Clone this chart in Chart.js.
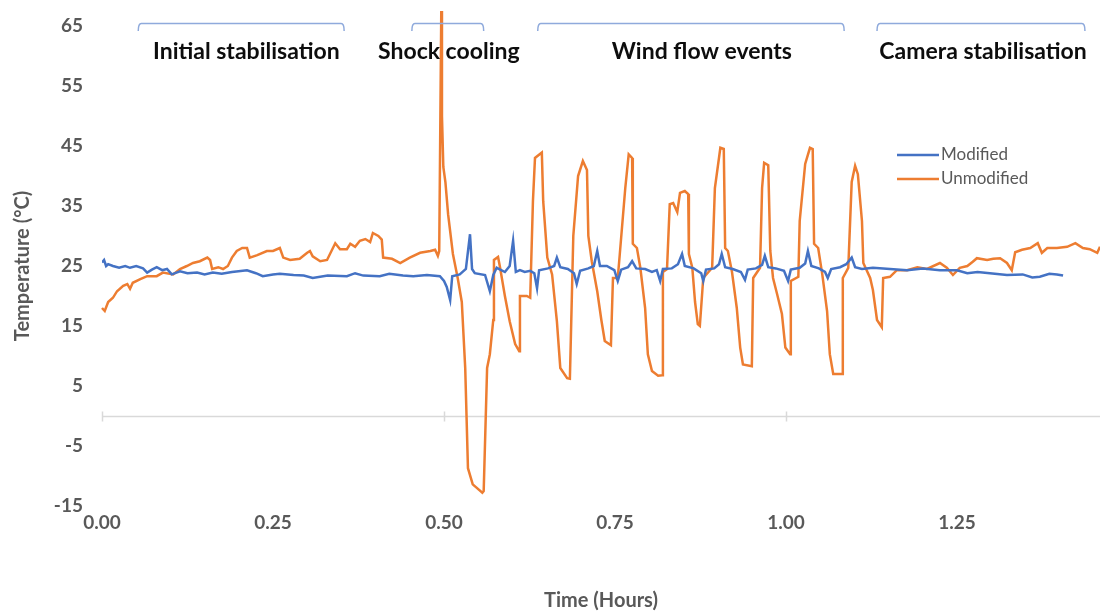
<!DOCTYPE html>
<html>
<head>
<meta charset="utf-8">
<script src="https://cdn.jsdelivr.net/npm/chart.js@4.4.0/dist/chart.umd.min.js"></script>
<style>
    html, body { margin: 0; padding: 0; background: #ffffff; }
    #wrap { width: 1100px; height: 613px; }
</style>
</head>
<body>
<div id="wrap"><canvas id="tempChart" width="1100" height="613"></canvas></div>
<script>
// Time in hours, temperature in °C
const modifiedTime = [
    0.000, 0.003, 0.006, 0.009, 0.016, 0.025, 0.034, 0.041, 0.050, 0.060,
    0.066, 0.073, 0.080, 0.088, 0.095, 0.102, 0.114, 0.125, 0.139, 0.150,
    0.162, 0.175, 0.190, 0.212, 0.225, 0.235, 0.250, 0.260, 0.280, 0.295,
    0.308, 0.330, 0.358, 0.370, 0.382, 0.406, 0.420, 0.440, 0.455, 0.475,
    0.494, 0.500, 0.504, 0.509, 0.512, 0.523, 0.532, 0.538, 0.541, 0.545,
    0.560, 0.567, 0.572, 0.577, 0.589, 0.596, 0.601, 0.605, 0.611, 0.618,
    0.626, 0.632, 0.636, 0.639, 0.652, 0.661, 0.665, 0.670, 0.681, 0.690,
    0.694, 0.699, 0.711, 0.719, 0.724, 0.728, 0.738, 0.749, 0.754, 0.759,
    0.769, 0.775, 0.781, 0.794, 0.804, 0.811, 0.816, 0.820, 0.833, 0.842,
    0.848, 0.852, 0.865, 0.876, 0.879, 0.883, 0.895, 0.902, 0.906, 0.911,
    0.922, 0.934, 0.940, 0.944, 0.956, 0.965, 0.969, 0.974, 0.985, 0.997,
    1.003, 1.007, 1.020, 1.028, 1.032, 1.037, 1.048, 1.057, 1.061, 1.066,
    1.079, 1.088, 1.096, 1.101, 1.111, 1.127, 1.152, 1.177, 1.200, 1.225,
    1.250, 1.265, 1.280, 1.298, 1.323, 1.346, 1.360, 1.371, 1.385, 1.396,
    1.405
];
const modifiedTemp = [
    25.6, 26.0, 25.0, 25.3, 25.0, 24.7, 25.0, 24.7, 25.0, 24.6,
    23.9, 24.4, 24.8, 24.3, 24.5, 23.6, 24.1, 23.8, 23.9, 23.6,
    23.9, 23.7, 24.0, 24.3, 23.8, 23.3, 23.6, 23.7, 23.5, 23.4,
    23.0, 23.4, 23.3, 23.8, 23.4, 23.3, 23.7, 23.4, 23.3, 23.5,
    23.3, 22.5, 21.5, 19.3, 23.3, 23.6, 24.5, 30.3, 24.5, 23.8,
    23.5, 20.8, 23.5, 24.7, 24.0, 25.0, 29.2, 24.0, 24.3, 24.0,
    24.2, 23.8, 21.3, 24.3, 24.6, 25.0, 26.4, 24.8, 24.5, 23.8,
    22.0, 24.2, 24.6, 25.0, 27.5, 25.0, 25.0, 24.3, 22.5, 24.4,
    24.8, 25.8, 24.6, 24.5, 24.0, 24.3, 22.5, 24.5, 24.6, 25.3,
    27.0, 25.0, 24.6, 23.8, 22.5, 24.4, 24.6, 25.3, 27.0, 24.8,
    24.5, 24.0, 22.7, 24.4, 24.6, 25.2, 26.7, 24.8, 24.6, 24.2,
    22.5, 24.4, 24.7, 25.4, 27.5, 25.0, 24.6, 24.0, 23.0, 24.5,
    24.8, 25.3, 26.4, 24.8, 24.5, 24.7, 24.5, 24.3, 24.6, 24.3,
    24.3, 23.8, 24.0, 23.8, 23.5, 23.6, 23.1, 23.2, 23.7, 23.6,
    23.4
];

const unmodifiedTime = [
    0.000, 0.004, 0.009, 0.016, 0.022, 0.031, 0.037, 0.041, 0.045, 0.056,
    0.066, 0.080, 0.089, 0.104, 0.114, 0.124, 0.133, 0.143, 0.154, 0.158,
    0.161, 0.170, 0.177, 0.184, 0.190, 0.197, 0.205, 0.212, 0.216, 0.227,
    0.241, 0.250, 0.260, 0.265, 0.275, 0.289, 0.300, 0.304, 0.308, 0.319,
    0.329, 0.341, 0.348, 0.358, 0.363, 0.370, 0.377, 0.385, 0.392, 0.396,
    0.404, 0.409, 0.411, 0.424, 0.436, 0.450, 0.465, 0.480, 0.487, 0.491,
    0.493, 0.496, 0.497, 0.499, 0.502, 0.506, 0.513, 0.520, 0.526, 0.531,
    0.535, 0.542, 0.556, 0.558, 0.563, 0.567, 0.572, 0.573, 0.579, 0.582,
    0.589, 0.596, 0.604, 0.610, 0.611, 0.621, 0.626, 0.630, 0.633, 0.643,
    0.645, 0.651, 0.658, 0.665, 0.670, 0.680, 0.684, 0.689, 0.696, 0.703,
    0.709, 0.711, 0.716, 0.724, 0.730, 0.735, 0.744, 0.747, 0.754, 0.757,
    0.765, 0.770, 0.775, 0.776, 0.782, 0.787, 0.794, 0.798, 0.804, 0.813,
    0.819, 0.820, 0.826, 0.830, 0.835, 0.841, 0.845, 0.852, 0.857, 0.858,
    0.863, 0.867, 0.871, 0.874, 0.879, 0.892, 0.896, 0.904, 0.909, 0.911,
    0.915, 0.921, 0.928, 0.933, 0.937, 0.950, 0.952, 0.962, 0.965, 0.968,
    0.974, 0.977, 0.981, 0.987, 0.994, 0.999, 1.006, 1.007, 1.018, 1.020,
    1.028, 1.035, 1.039, 1.041, 1.047, 1.053, 1.060, 1.064, 1.069, 1.082,
    1.083, 1.091, 1.096, 1.101, 1.105, 1.111, 1.113, 1.123, 1.127, 1.133,
    1.140, 1.142, 1.152, 1.162, 1.177, 1.192, 1.206, 1.225, 1.235, 1.244,
    1.254, 1.265, 1.273, 1.279, 1.294, 1.303, 1.313, 1.323, 1.330, 1.335,
    1.345, 1.357, 1.368, 1.374, 1.382, 1.396, 1.411, 1.423, 1.434, 1.444,
    1.455, 1.459
];
const unmodifiedTemp = [
    18.0, 17.5, 19.0, 19.7, 20.8, 21.7, 22.0, 21.2, 22.2, 22.8,
    23.3, 23.3, 23.9, 23.6, 24.5, 25.0, 25.5, 25.8, 26.4, 26.0,
    24.5, 24.8, 24.5, 25.0, 26.4, 27.5, 28.0, 28.0, 26.4, 26.8,
    27.5, 27.5, 28.0, 26.4, 26.0, 26.2, 27.2, 27.5, 26.6, 25.8,
    26.0, 28.8, 27.8, 27.8, 28.7, 28.2, 29.2, 29.5, 29.0, 30.5,
    30.0, 29.4, 26.4, 26.2, 25.5, 26.4, 27.2, 27.5, 27.7, 26.7,
    27.5, 67.5, 50.0, 41.5, 39.0, 33.6, 27.0, 23.0, 19.0, 8.0,
    -8.7, -11.4, -12.8, -12.5, 8.0, 10.3, 16.0, 26.0, 26.5, 24.7,
    20.0, 15.8, 12.0, 10.8, 20.0, 20.0, 19.7, 35.8, 43.0, 43.9,
    35.8, 26.4, 23.6, 15.8, 8.0, 6.3, 6.2, 30.0, 40.0, 42.5,
    41.0, 30.0, 25.8, 20.8, 16.0, 12.5, 11.8, 23.0, 23.0, 27.0,
    38.0, 43.6, 43.0, 28.7, 28.0, 24.7, 18.0, 10.3, 7.5, 6.7,
    6.8, 24.0, 24.5, 35.3, 35.5, 34.0, 37.2, 37.5, 37.0, 27.0,
    24.7, 19.0, 15.3, 15.0, 23.0, 24.7, 38.0, 44.7, 44.5, 28.0,
    27.5, 24.0, 18.0, 11.4, 8.6, 8.3, 23.0, 24.7, 38.0, 42.2,
    41.8, 27.5, 23.0, 20.3, 17.0, 11.4, 10.3, 22.5, 23.2, 32.5,
    42.0, 44.7, 44.5, 28.7, 28.0, 23.6, 17.5, 10.3, 7.0, 7.0,
    23.0, 24.7, 39.0, 41.7, 40.3, 32.5, 25.5, 23.0, 21.0, 16.0,
    14.8, 23.0, 23.2, 24.3, 24.3, 24.8, 24.5, 25.5, 24.7, 23.5,
    24.7, 25.0, 25.7, 26.3, 26.0, 26.2, 26.3, 25.5, 24.3, 27.3,
    27.7, 28.0, 28.8, 27.2, 28.0, 28.0, 28.2, 28.8, 28.0, 27.8,
    27.2, 28.2
];

const seriesNames = ['Modified', 'Unmodified'];
const xTickValues = [0, 0.25, 0.5, 0.75, 1.0, 1.25];
const zeroLineTicks = [0, 0.5, 1.0];

// Test phases marked with brackets above the plot (hours)
const phaseNames = ['Initial stabilisation', 'Shock cooling', 'Wind flow events', 'Camera stabilisation'];
const phaseStart = [0.053, 0.453, 0.637, 1.133];
const phaseEnd = [0.354, 0.558, 1.085, 1.437];
const phaseLabelAt = [0.211, 0.507, 0.877, 1.288];

const FONT = "Lato, 'Open Sans', 'Liberation Sans', sans-serif";
const GREY = '#595959';

function toPoints(xs, ys) {
    return xs.map((x, i) => ({ x: x, y: ys[i] }));
}

// horizontal axis line at 0 °C with its small tick marks
const zeroLinePlugin = {
    id: 'zeroLine',
    beforeDatasetsDraw(chart) {
        const { ctx, chartArea, scales } = chart;
        const y0 = Math.round(scales.y.getPixelForValue(0)) + 0.5;
        ctx.save();
        ctx.strokeStyle = '#d9d9d9';
        ctx.lineWidth = 1.5;
        ctx.beginPath();
        ctx.moveTo(chartArea.left, y0);
        ctx.lineTo(chartArea.right, y0);
        zeroLineTicks.forEach(t => {
            const x = Math.round(scales.x.getPixelForValue(t)) + 0.5;
            ctx.moveTo(x, y0 - 5);
            ctx.lineTo(x, y0 + 5);
        });
        ctx.stroke();
        ctx.restore();
    }
};

// brackets + phase captions
const phasePlugin = {
    id: 'phases',
    afterDraw(chart) {
        const { ctx, scales } = chart;
        ctx.save();
        ctx.strokeStyle = '#8faadc';
        ctx.lineWidth = 1.5;
        phaseNames.forEach((name, i) => {
            const x1 = scales.x.getPixelForValue(phaseStart[i]);
            const x2 = scales.x.getPixelForValue(phaseEnd[i]);
            ctx.beginPath();
            ctx.moveTo(x1, 31);
            ctx.quadraticCurveTo(x1, 23.5, x1 + 3, 23.5);
            ctx.lineTo(x2 - 3, 23.5);
            ctx.quadraticCurveTo(x2, 23.5, x2, 31);
            ctx.stroke();
        });
        ctx.fillStyle = '#0d0d0d';
        ctx.font = "bold 23px " + FONT;
        ctx.textAlign = 'center';
        ctx.textBaseline = 'middle';
        phaseNames.forEach((name, i) => {
            ctx.fillText(name, scales.x.getPixelForValue(phaseLabelAt[i]), 52);
        });
        ctx.restore();
    }
};

// legend sitting inside the plot, right of the wind events
const sideLegendPlugin = {
    id: 'sideLegend',
    afterDraw(chart) {
        const { ctx } = chart;
        ctx.save();
        ctx.font = "17px " + FONT;
        ctx.textBaseline = 'middle';
        ctx.textAlign = 'left';
        chart.data.datasets.forEach((ds, i) => {
            const y = 155 + i * 24;
            ctx.strokeStyle = ds.borderColor;
            ctx.lineWidth = 2.5;
            ctx.beginPath();
            ctx.moveTo(897, y);
            ctx.lineTo(939, y);
            ctx.stroke();
            ctx.fillStyle = GREY;
            ctx.fillText(ds.label, 941, y);
        });
        ctx.restore();
    }
};

const ctx = document.getElementById('tempChart').getContext('2d');
new Chart(ctx, {
    type: 'line',
    data: {
        datasets: [
            {
                label: seriesNames[0],
                data: toPoints(modifiedTime, modifiedTemp),
                borderColor: '#4472c4',
                borderWidth: 2.5,
                pointRadius: 0,
                tension: 0,
                fill: false
            },
            {
                label: seriesNames[1],
                data: toPoints(unmodifiedTime, unmodifiedTemp),
                borderColor: '#ed7d31',
                borderWidth: 2.5,
                pointRadius: 0,
                tension: 0,
                fill: false,
                clip: { left: 2, top: false, right: 0, bottom: 4 }
            }
        ]
    },
    options: {
        responsive: false,
        animation: false,
        devicePixelRatio: 1,
        layout: { padding: { top: 26, right: 0, left: 0, bottom: 0 } },
        plugins: {
            legend: { display: false },
            tooltip: { enabled: false }
        },
        scales: {
            x: {
                type: 'linear',
                min: 0,
                max: 1.459,
                grid: { display: false, drawTicks: false },
                border: { display: false },
                afterBuildTicks(axis) {
                    axis.ticks = xTickValues.map(v => ({ value: v }));
                },
                afterFit(axis) {
                    axis.height = 107;
                    axis.paddingRight = 0;
                },
                ticks: {
                    padding: 5,
                    maxRotation: 0,
                    autoSkip: false,
                    color: GREY,
                    font: { family: FONT, size: 19, weight: 'bold' },
                    callback: v => Number(v).toFixed(2)
                },
                title: {
                    display: true,
                    text: 'Time (Hours)',
                    color: GREY,
                    padding: { top: 0, bottom: 0 },
                    font: { family: FONT, size: 20, weight: 'bold' }
                }
            },
            y: {
                min: -15,
                max: 65,
                grid: { display: false, drawTicks: false },
                border: { display: false },
                afterFit(axis) {
                    // keep the plot area at the layout padding, not the label padding
                    axis.width = 102;
                    axis.paddingTop = 0;
                    axis.paddingBottom = 0;
                },
                ticks: {
                    stepSize: 10,
                    padding: 19,
                    color: GREY,
                    font: { family: FONT, size: 19, weight: 'bold' }
                },
                title: {
                    display: true,
                    text: 'Temperature (°C)',
                    color: GREY,
                    padding: { top: 11, bottom: 0 },
                    font: { family: FONT, size: 20, weight: 'bold' }
                }
            }
        }
    },
    plugins: [zeroLinePlugin, phasePlugin, sideLegendPlugin]
});
</script>
</body>
</html>
